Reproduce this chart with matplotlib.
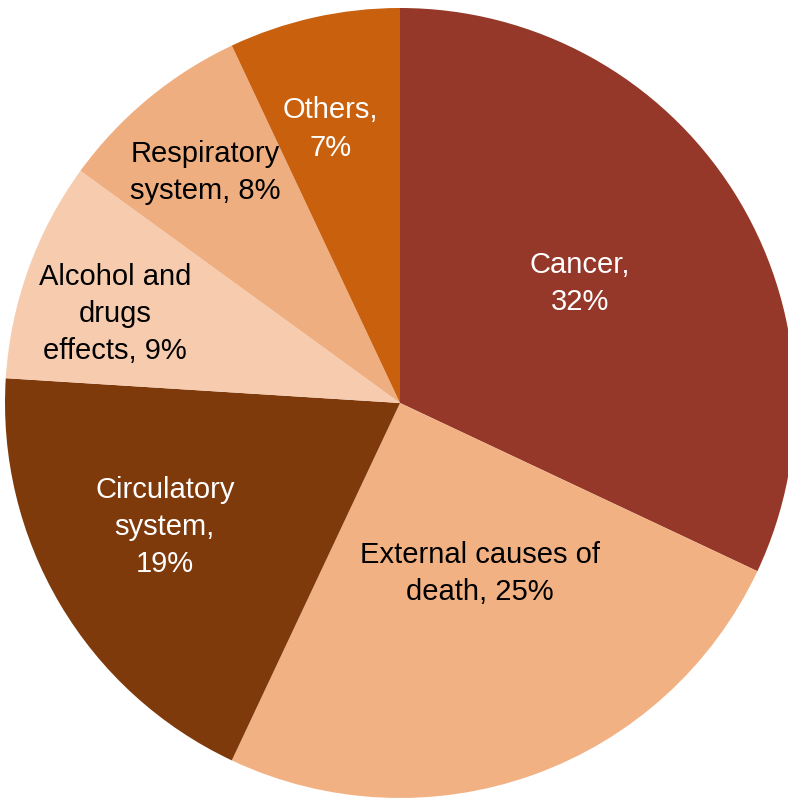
import numpy as np
import matplotlib
matplotlib.use('Agg')
from matplotlib import pyplot as plt

labels = ['Cancer,\n32%', 'External causes of\ndeath, 25%', 'Circulatory\nsystem,\n19%',
          'Alcohol and\ndrugs\neffects, 9%', 'Respiratory\nsystem, 8%', 'Others,\n7%']
shares = [32, 25, 19, 9, 8, 7]
colors = ['#953829', '#F2B183', '#7F3A0C', '#F6CBAE', '#EFAE80', '#C9600E']
text_colors = ['white', 'black', 'white', 'black', 'black', 'white']
# label placement: fraction of radius and angle nudge (deg) from wedge middle
label_dist = [0.547, 0.476, 0.673, 0.756, 0.765, 0.716]
label_nudge = [1.2, 5.4, -2.8, 2.5, 0.6, 1.7]

plt.rcParams['font.family'] = ['Liberation Sans', 'DejaVu Sans']

fig = plt.figure(figsize=(7.88, 7.99), dpi=100)
ax = fig.add_axes([0, 0, 1, 1])
R = 395
wedges, _ = ax.pie(shares, colors=colors, startangle=90, counterclock=False,
                   radius=R, wedgeprops=dict(linewidth=0))

for w, lab, tc, d, nd in zip(wedges, labels, text_colors, label_dist, label_nudge):
    mid = np.deg2rad((w.theta1 + w.theta2) / 2 + nd)
    ax.text(d * R * np.cos(mid), d * R * np.sin(mid), lab, color=tc,
            ha='center', va='center', fontsize=21, linespacing=1.42)

ax.set_xlim(-400, 388)
ax.set_ylim(-396, 403)
ax.set_aspect('equal')
ax.axis('off')
fig.savefig('out.png', dpi=100)
